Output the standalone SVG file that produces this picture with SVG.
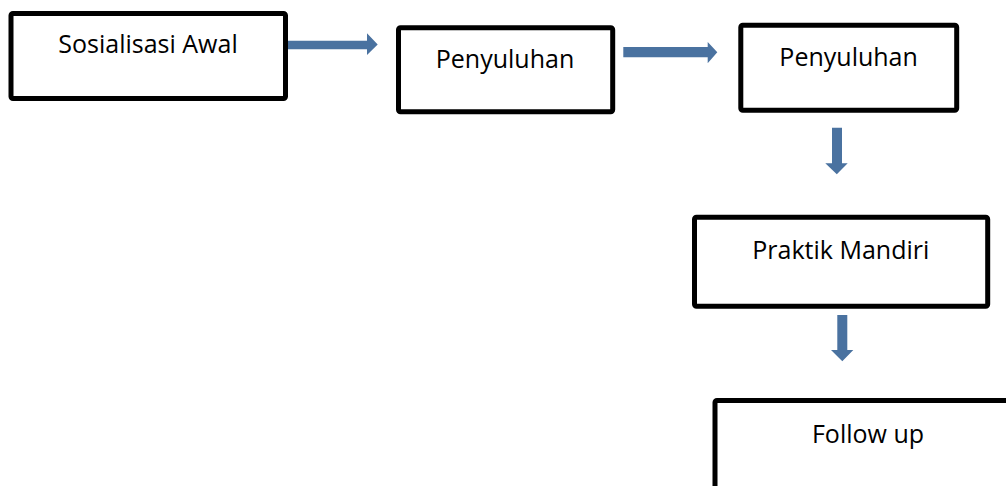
<svg xmlns="http://www.w3.org/2000/svg" width="1006" height="486" viewBox="0 0 1006 486">
<style>
.box{fill:#fff;stroke:#000;stroke-width:5}
.lbl{font-family:"Open Sans","Liberation Sans",sans-serif;font-size:25px;fill:#000;text-anchor:middle}
.arr{fill:#4A72A0}
</style>
<rect width="1006" height="486" fill="#fff"/>
<g id="connectors">
<polygon class="arr" points="283,40.7 367,40.7 367,33.3 377.7,44.5 367,55 367,49.3 283,49.3"/>
<polygon class="arr" points="623.3,47 707.7,47 707.7,42 717.3,52.2 707.7,63.3 707.7,57.3 623.3,57.3"/>
<polygon class="arr" points="832,127.7 842,127.7 842,163.3 847.7,163.3 836.8,174.3 825.3,163.3 832,163.3"/>
<polygon class="arr" points="837.3,315 847.3,315 847.3,350 853.3,350 842.3,361.3 831,350 837.3,350"/>
</g>
<g id="n1"><rect class="box" x="11" y="13.5" width="274.5" height="85" rx="2"/><text class="lbl" x="148" y="53.3">Sosialisasi Awal</text></g>
<g id="n2"><rect class="box" x="398.5" y="27.8" width="214.2" height="84" rx="2"/><text class="lbl" x="505" y="67.7">Penyuluhan</text></g>
<g id="n3"><rect class="box" x="740.8" y="25.2" width="215.9" height="85" rx="2"/><text class="lbl" x="848.6" y="66">Penyuluhan</text></g>
<g id="n4"><rect class="box" x="694.5" y="217.2" width="293.2" height="89" rx="2"/><text class="lbl" x="840.8" y="259.3">Praktik Mandiri</text></g>
<g id="n5"><rect class="box" x="715" y="400.5" width="306" height="100" rx="2"/><text class="lbl" x="868" y="443.3">Follow up</text></g>
</svg>
